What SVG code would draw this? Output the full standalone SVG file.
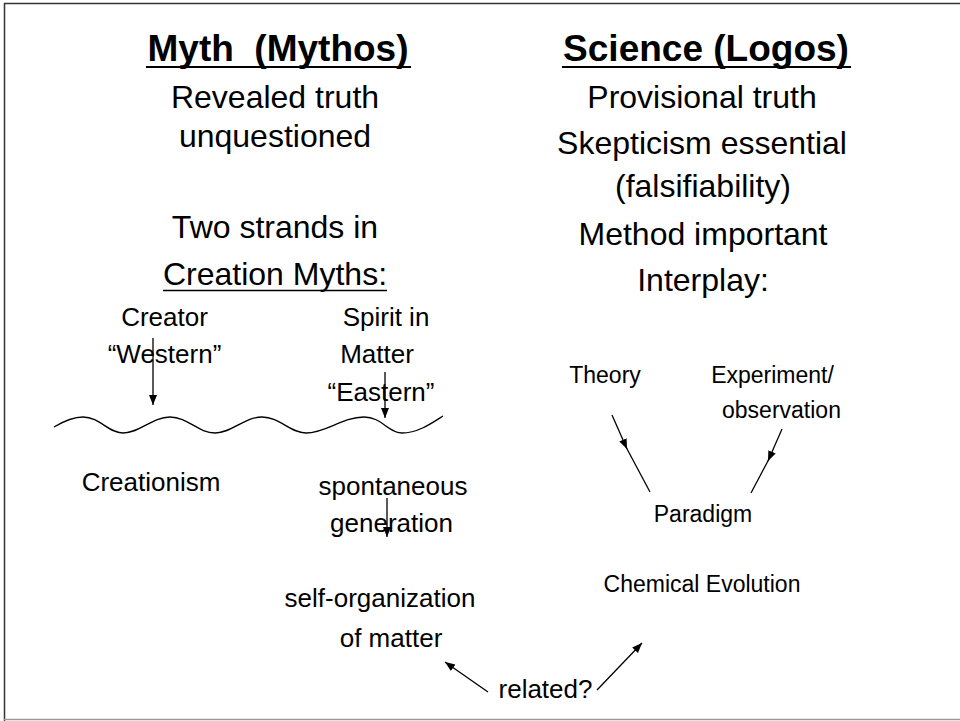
<svg xmlns="http://www.w3.org/2000/svg" width="960" height="721" viewBox="0 0 960 721">
<style>
text{font-family:"Liberation Sans",Arial,Helvetica,sans-serif;fill:#000;text-anchor:middle}
.h{font-size:37px;font-weight:bold}
.b{font-size:32px}
.m{font-size:26px}
.s{font-size:23px}
.ln{stroke:#000;stroke-width:1.3;fill:none}
.ul{stroke:#000;stroke-width:2}
</style>
<defs>
<marker id="ah" markerUnits="userSpaceOnUse" markerWidth="10" markerHeight="10" viewBox="0 0 10 10" refX="10" refY="5" orient="auto">
<path d="M0,1 L10,5 L0,9 Z" fill="#000"/>
</marker>
</defs>
<rect width="960" height="721" fill="#fff"/>
<g id="frame">
<path d="M4.5,721 L4.5,3.5 L960,3.5" stroke="#333" stroke-width="1.5" fill="none"/>
<path d="M4,719.5 L960,719.5" stroke="#999" stroke-width="1.5"/>
</g>
<g id="myth-title"><text class="h" x="278" y="61">Myth&#160; (Mythos)</text><line class="ul" x1="146" y1="67" x2="411" y2="67"/></g>
<g id="science-title"><text class="h" x="706" y="61">Science (Logos)</text><line class="ul" x1="562" y1="67" x2="851" y2="67"/></g>
<g id="myth-desc"><text class="b" x="275" y="108">Revealed truth</text><text class="b" x="275" y="147">unquestioned</text></g>
<g id="two-strands"><text class="b" x="275" y="238">Two strands in</text><text class="b" x="275" y="285">Creation Myths:</text><line x1="163" y1="290.5" x2="387" y2="290.5" stroke="#000" stroke-width="1.5"/></g>
<g id="science-desc">
<text class="b" x="702" y="108">Provisional truth</text>
<text class="b" x="702" y="154">Skepticism essential</text>
<text class="b" x="703" y="197">(falsifiability)</text>
<text class="b" x="703" y="245">Method important</text>
<text class="b" x="703" y="291">Interplay:</text>
</g>
<g id="creator"><text class="m" x="164.5" y="326">Creator</text><text class="m" x="164.5" y="363">“Western”</text></g>
<g id="spirit"><text class="m" x="386" y="326">Spirit in</text><text class="m" x="377" y="363">Matter</text><text class="m" x="381" y="401">“Eastern”</text></g>
<g id="wave"><path class="ln" d="M54,427 C64,421 74,417 83,417 C100,417 108,433 123,433 C140,433 152,417 170,417 C188,417 198,433 215,433 C232,433 244,417 262,417 C280,417 290,433 306,433 C326,433 342,417 364,417 C382,417 388,433 402,433 C418,433 432,423 443,416"/></g>
<g id="creationism"><text class="m" x="151" y="491">Creationism</text></g>
<g id="spontaneous"><text class="m" x="393" y="495">spontaneous</text><text class="m" x="391.5" y="532">generation</text></g>
<g id="self-org"><text class="m" x="380" y="607">self-organization</text><text class="m" x="391" y="647">of matter</text></g>
<g id="related"><text class="m" x="545.5" y="698">related?</text></g>
<g id="theory"><text class="s" x="605" y="383">Theory</text></g>
<g id="experiment"><text class="s" x="772.5" y="383">Experiment/</text><text class="s" x="781.5" y="418">observation</text></g>
<g id="paradigm"><text class="s" x="703" y="522">Paradigm</text></g>
<g id="chem-evo"><text class="s" x="702" y="592">Chemical Evolution</text></g>
<g id="connectors">
<line class="ln" x1="153" y1="338" x2="153" y2="405" marker-end="url(#ah)"/>
<line class="ln" x1="385" y1="372" x2="385" y2="418" marker-end="url(#ah)"/>
<line class="ln" x1="387" y1="498" x2="387" y2="537" marker-end="url(#ah)"/>
<line class="ln" x1="612" y1="415" x2="627" y2="449" marker-end="url(#ah)"/>
<line class="ln" x1="626" y1="447" x2="650" y2="492"/>
<line class="ln" x1="782" y1="429" x2="768" y2="461" marker-end="url(#ah)"/>
<line class="ln" x1="769" y1="459" x2="751" y2="493"/>
<line class="ln" x1="488" y1="692" x2="445" y2="662" marker-end="url(#ah)"/>
<line class="ln" x1="597" y1="690" x2="642" y2="643" marker-end="url(#ah)"/>
</g>
</svg>
